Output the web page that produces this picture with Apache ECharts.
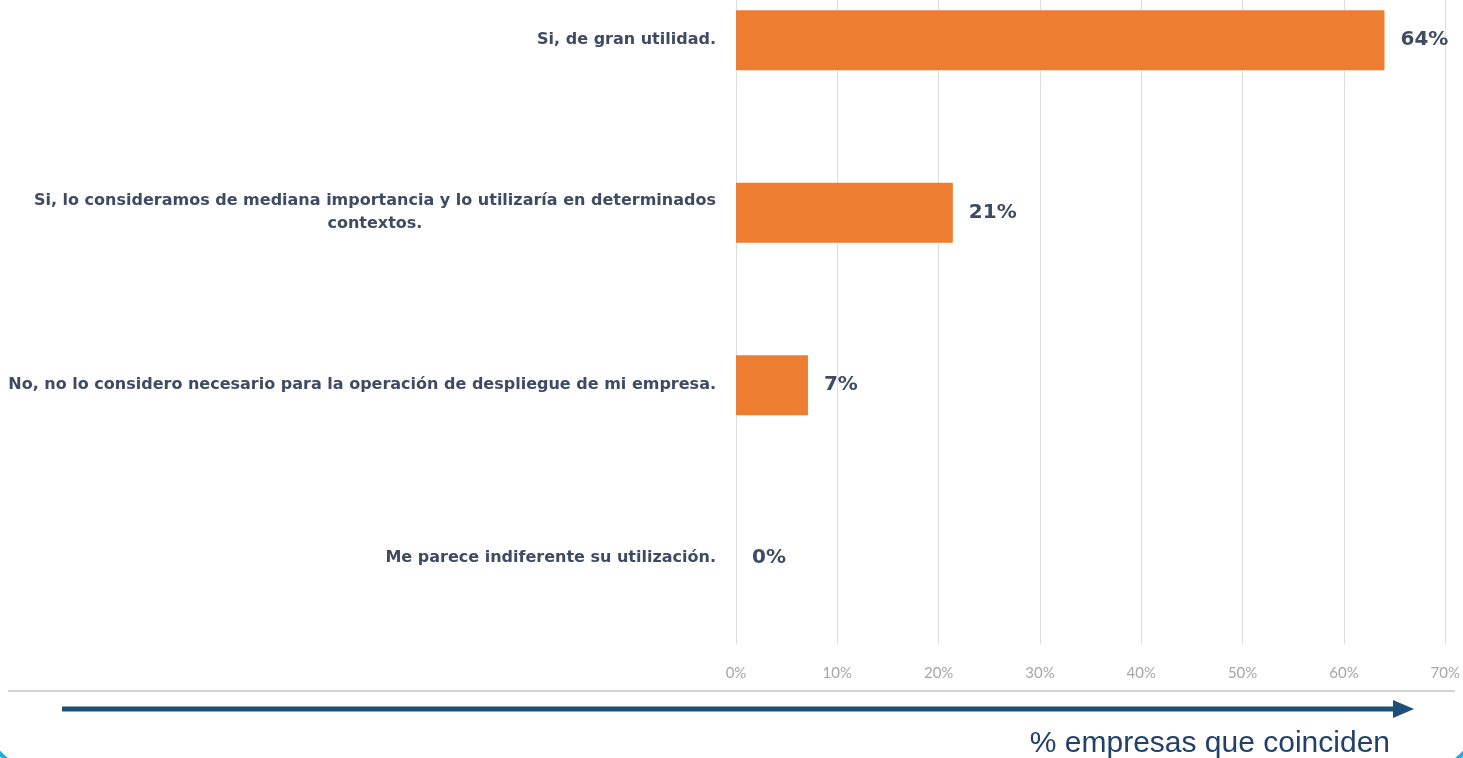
<!DOCTYPE html>
<html>
<head>
<meta charset="utf-8">
<script src="https://cdn.jsdelivr.net/npm/echarts@6/dist/echarts.min.js"></script>
<style>
html,body{margin:0;padding:0;background:#fff;overflow:hidden;}
#chart{width:1463px;height:804px;margin-top:-46px;}
</style>
</head>
<body>
<div id="chart"></div>
<script>
// respuestas (de arriba hacia abajo)
var categories = [
    'Si, de gran utilidad.',
    'Si, lo consideramos de mediana importancia y lo utilizaría en determinados\ncontextos.',
    'No, no lo considero necesario para la operación de despliegue de mi empresa.',
    'Me parece indiferente su utilización.'
];
// fraccion de empresas
var values = [0.64, 0.214, 0.071, 0];
var axisMax = 0.7;
var axisStep = 0.1;
var axisTitle = '% empresas que coinciden';

// el div empieza 46px por encima de la pagina
var dy = 46;
var myChart = echarts.init(document.getElementById('chart'));
var labelColor = '#3f4b63';
var labelFont = {color: labelColor, fontFamily: 'DejaVu Sans', fontWeight: 'bold', fontSize: 16, lineHeight: 23};
var option = {
    backgroundColor: '#fff',
    animation: false,
    grid: {left: 736, right: 13, top: 0, bottom: 114},
    xAxis: {
        type: 'value',
        min: 0,
        max: axisMax,
        interval: axisStep,
        axisLine: {show: false},
        axisTick: {show: false},
        splitLine: {lineStyle: {color: '#dcdcdc', width: 1}},
        axisLabel: {
            margin: 22,
            color: '#a6a6a6',
            fontFamily: 'Lato',
            fontSize: 15,
            formatter: function (v) { return Math.round(v * 100) + '%'; }
        }
    },
    yAxis: {
        type: 'category',
        inverse: true,
        data: categories,
        axisLine: {show: false},
        axisTick: {show: false},
        axisLabel: Object.assign({
            margin: 20,
            formatter: function (value) {
                var parts = value.split('\n');
                if (parts.length > 1) {
                    return '{a|' + parts[0] + '}\n{b|' + parts[1] + '}';
                }
                return '{a|' + value + '}';
            },
            rich: {
                a: Object.assign({}, labelFont),
                b: Object.assign({width: 680, align: 'center'}, labelFont)
            }
        }, labelFont)
    },
    series: [{
        type: 'bar',
        data: values,
        barWidth: 60,
        itemStyle: {color: '#ed7d31'},
        label: {
            show: true,
            position: 'right',
            distance: 16,
            color: labelColor,
            fontFamily: 'DejaVu Sans',
            fontWeight: 'bold',
            fontSize: 20,
            formatter: function (p) { return Math.round(p.value * 100) + '%'; }
        }
    }],
    graphic: [
        // linea gris inferior
        {type: 'line', shape: {x1: 8, y1: 691 + dy, x2: 1455, y2: 691 + dy}, style: {stroke: '#d4d4d4', lineWidth: 2}},
        // flecha
        {type: 'line', shape: {x1: 62, y1: 709 + dy, x2: 1396, y2: 709 + dy}, style: {stroke: '#1f4e79', lineWidth: 5}},
        {type: 'polygon', shape: {points: [[1393, 700 + dy], [1414, 709 + dy], [1393, 718 + dy]]}, style: {fill: '#1f4e79'}},
        {type: 'text', right: 73, top: 729 + dy, style: {text: axisTitle, fill: '#22406a', font: '30px "Liberation Sans", Arial, sans-serif'}},
        // marco redondeado
        {type: 'rect', shape: {x: -10, y: -100 + dy, width: 1483, height: 867, r: 40}, style: {fill: 'none', stroke: '#19aee6', lineWidth: 4}}
    ]
};
myChart.setOption(option);
</script>
</body>
</html>
